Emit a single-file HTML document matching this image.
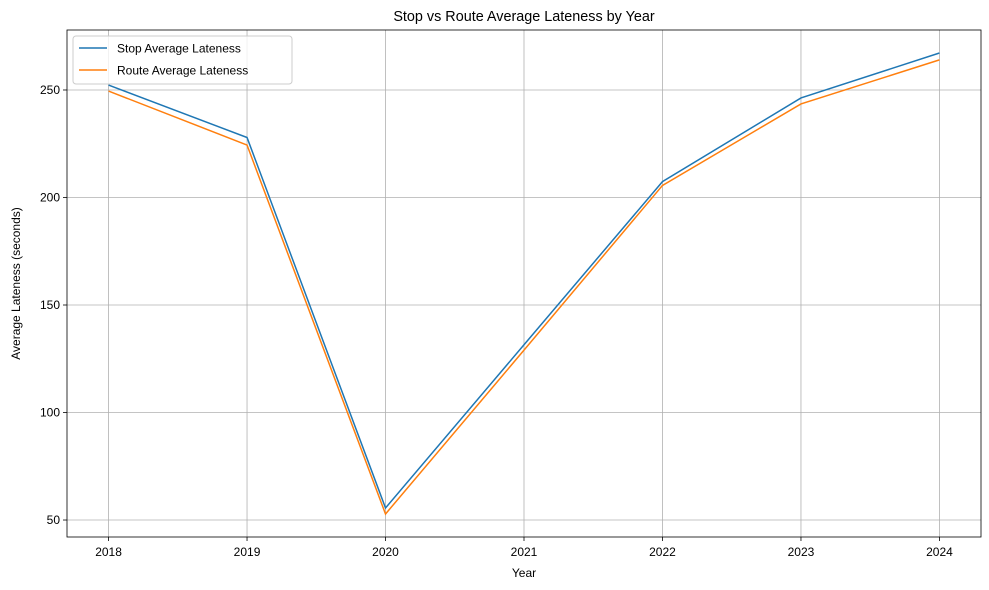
<!DOCTYPE html>
<html><head><meta charset="utf-8"><style>
body{margin:0;background:#fff;}
svg{display:block;font-family:"Liberation Sans","DejaVu Sans",sans-serif;}
</style></head><body>
<svg id="chart" width="989" height="590"></svg>
<script>
const years=[2018,2019,2020,2021,2022,2023,2024];
const stopValues=[252.3,227.9,55.6,131.5,207.4,246.3,267.2];
const routeValues=[249.5,224.4,52.8,129.0,205.6,243.5,264.0];
const yTicks=[50,100,150,200,250];
const seriesNames=["Stop Average Lateness","Route Average Lateness"];

const NS="http://www.w3.org/2000/svg";
const svg=document.getElementById('chart');
const L=67,R=981,T=30,B=537;
const x0=2017.7,x1=2024.3,y0=42.1,y1=277.9;
function xs(v){return L+(v-x0)/(x1-x0)*(R-L);}
function ys(v){return B-(v-y0)/(y1-y0)*(B-T);}
function mk(tag,attrs,parent){const e=document.createElementNS(NS,tag);for(const k in attrs)e.setAttribute(k,attrs[k]);(parent||svg).appendChild(e);return e;}

const grid=mk('g',{});


years.forEach(y=>{mk('line',{x1:xs(y),x2:xs(y),y1:T,y2:B,stroke:'#b0b0b0','stroke-width':0.8},grid);});
yTicks.forEach(v=>{mk('line',{x1:L,x2:R,y1:ys(v),y2:ys(v),stroke:'#b0b0b0','stroke-width':0.8},grid);});

const xt=mk('g',{});


years.forEach(y=>{
  mk('line',{x1:xs(y),x2:xs(y),y1:B,y2:B+4,stroke:'#000','stroke-width':0.8},xt);
  const t=mk('text',{x:xs(y),y:B+19,'text-anchor':'middle','font-size':12},xt);t.textContent=y;
});
const yt=mk('g',{});


yTicks.forEach(v=>{
  mk('line',{x1:L-4,x2:L,y1:ys(v),y2:ys(v),stroke:'#000','stroke-width':0.8},yt);
  const t=mk('text',{x:L-7,y:ys(v)+4,'text-anchor':'end','font-size':12},yt);t.textContent=v;
});

function line(vals,color,name){
  const p=mk('polyline',{points:years.map((y,i)=>xs(y)+','+ys(vals[i])).join(' '),fill:'none',stroke:color,'stroke-width':1.5});
  
  
}
line(stopValues,'#1f77b4','stop-lateness-line');
line(routeValues,'#ff7f0e','route-lateness-line');

const frame=mk('rect',{x:L,y:T,width:R-L,height:B-T,fill:'none',stroke:'#000','stroke-width':0.8});



const title=mk('text',{x:(L+R)/2,y:21,'text-anchor':'middle','font-size':14.4});
title.textContent='Stop vs Route Average Lateness by Year';


const xl=mk('text',{x:(L+R)/2,y:577,'text-anchor':'middle','font-size':12});
xl.textContent='Year';


const yl=mk('text',{x:20,y:(T+B)/2,'text-anchor':'middle','font-size':12,transform:'rotate(-90 20 '+((T+B)/2)+')'});
yl.textContent='Average Lateness (seconds)';



const lg=mk('g',{});


mk('rect',{x:73,y:36,width:219,height:48,rx:3,fill:'#fff','fill-opacity':0.8,stroke:'#ccc'},lg);
const colors=['#1f77b4','#ff7f0e'];
seriesNames.forEach((n,i)=>{
  const g=mk('g',{},lg);
  
  
  const yy=48+i*22;
  mk('line',{x1:79,x2:107,y1:yy,y2:yy,stroke:colors[i],'stroke-width':1.5},g);
  const t=mk('text',{x:117,y:yy+4.5,'font-size':12},g);t.textContent=n;
});
</script>
</body></html>
